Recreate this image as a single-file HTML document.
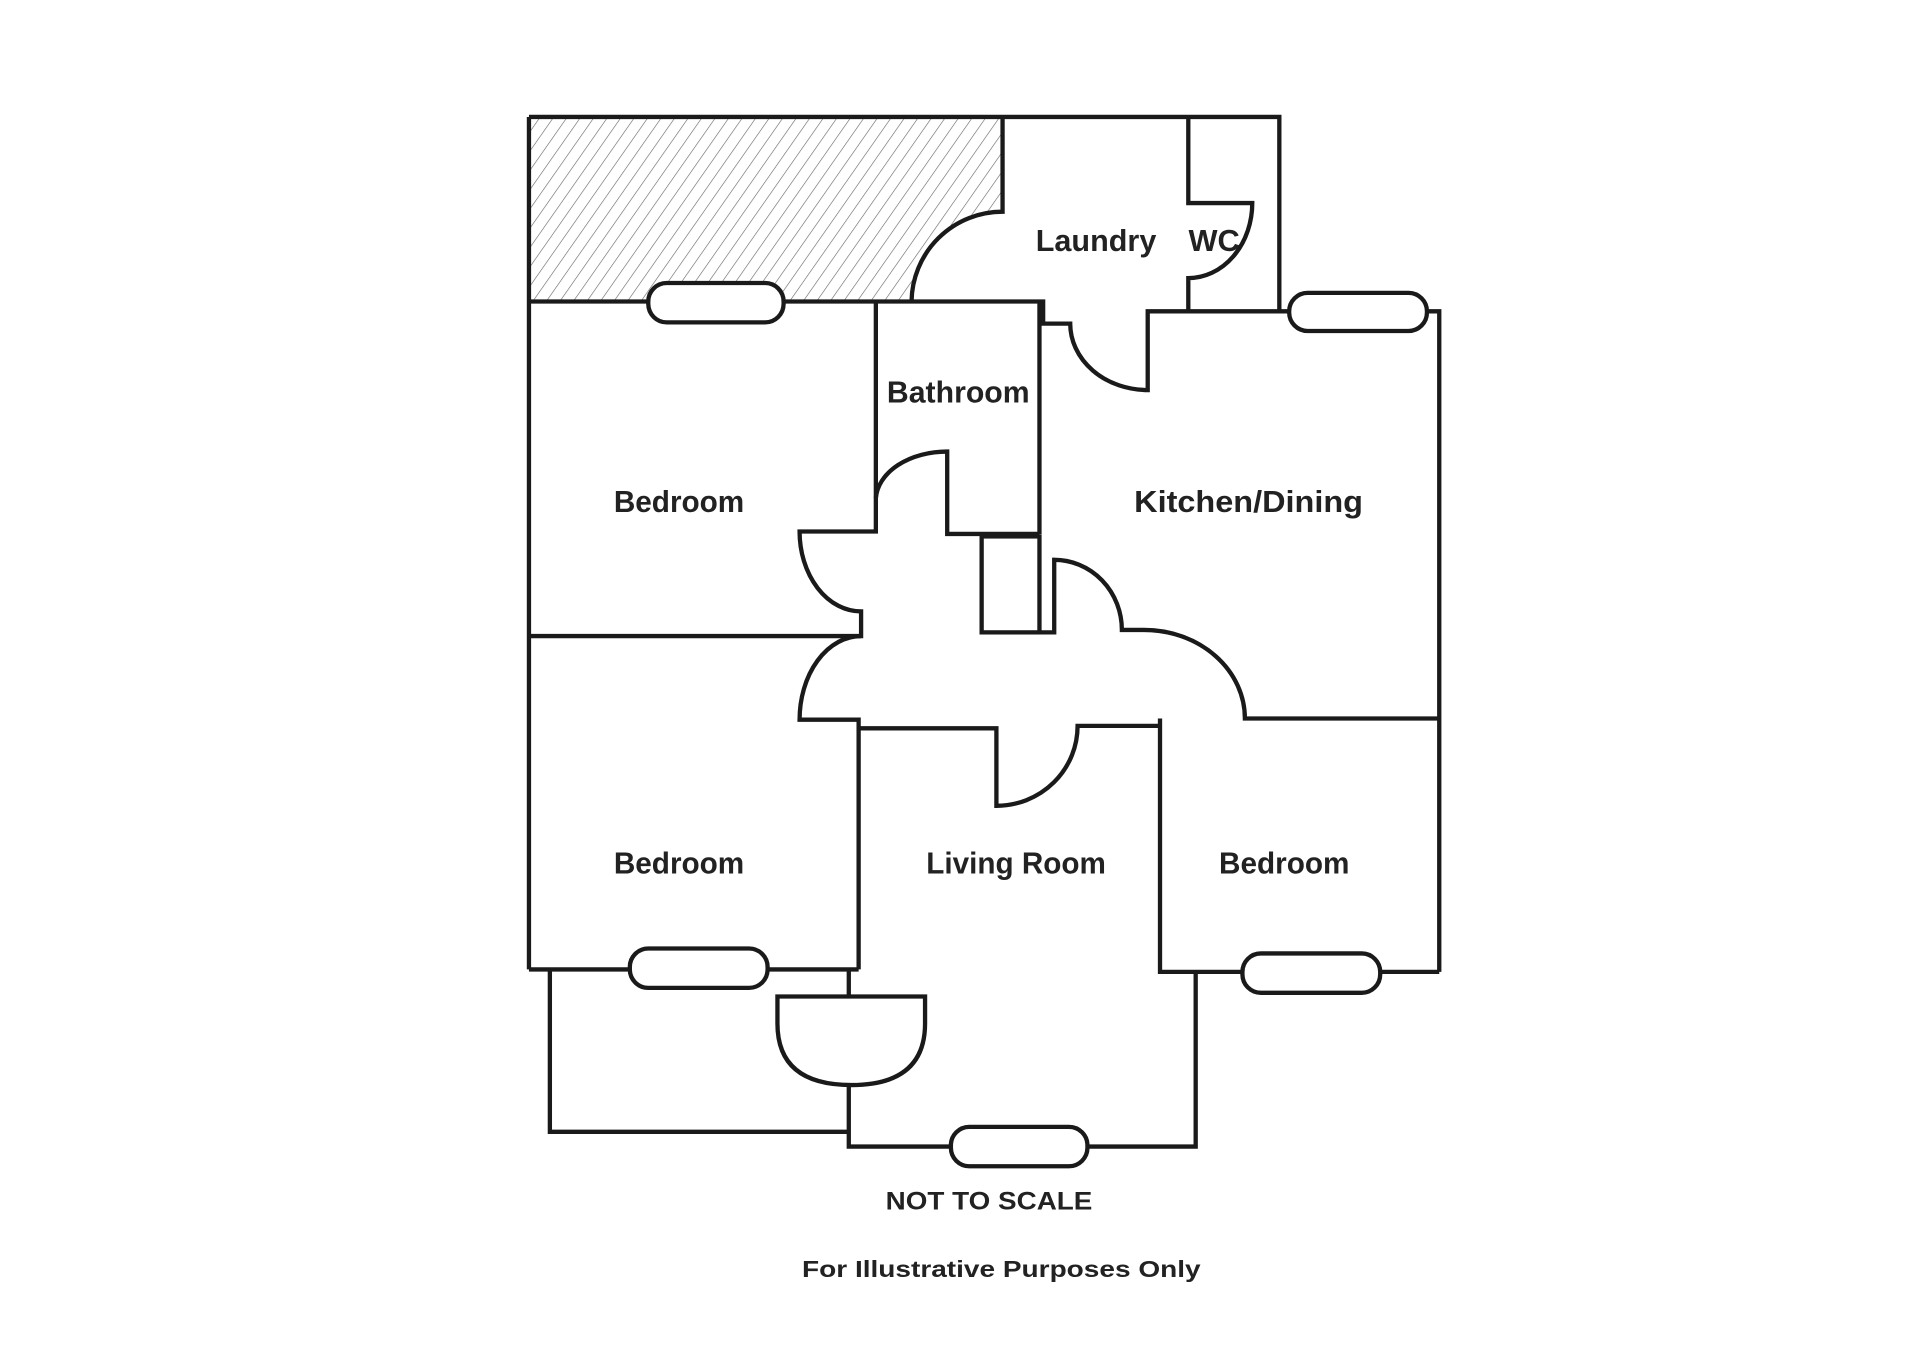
<!DOCTYPE html>
<html><head><meta charset="utf-8"><style>
html,body{margin:0;padding:0;background:#fff;}
svg{display:block;}
.t{font-family:"Liberation Sans",sans-serif;font-weight:bold;fill:#222;text-anchor:middle;}
</style></head><body>
<svg width="1919" height="1357" viewBox="0 0 1560 1103" xmlns="http://www.w3.org/2000/svg">
<defs>
<pattern id="h" patternUnits="userSpaceOnUse" width="9" height="9" patternTransform="rotate(35)">
<line x1="0" y1="0" x2="0" y2="9" stroke="#666" stroke-width="1"/>
</pattern>
</defs>
<g fill="none" stroke="#1a1a1a" stroke-width="3.5" stroke-linejoin="miter">
<path d="M430,95 L815,95 L815,172 A74,74 0 0 0 741,245 L430,245 Z" fill="url(#h)" stroke="none"/>
<path d="M430,95 L1040,95 L1040,253"/>
<path d="M815,95 L815,172 A74,74 0 0 0 741,245"/>
<path d="M966,95 L966,165 L1018,165 A52,61 0 0 1 966,226 L966,253"/>
<path d="M430,95 L430,788"/>
<path d="M430,245 L848,245 L848,263 L870,263 A63,54 0 0 0 933,317 L933,253 L1170,253 L1170,790"/>
<path d="M712,245 L712,432 L650,432 A50,65 0 0 0 700,497 L700,517 L430,517"/>
<path d="M712,405 A58,40 0 0 1 770,367 L770,434 L845,434"/>
<path d="M845,245 L845,434"/>
<rect x="798" y="436" width="47" height="78"/>
<path d="M845,514 L857,514 L857,455 A55,57 0 0 1 912,512 L930,512 A82,72 0 0 1 1012,584 L1170,584"/>
<path d="M700,517 A50,68 0 0 0 650,585 L698,585 L698,788"/>
<path d="M698,592 L810,592 L810,655 A66,65 0 0 0 876,590 L943,590"/>
<path d="M943,584 L943,790 L1170,790"/>
<path d="M430,788 L698,788"/>
<path d="M447,788 L447,920 L690,920"/>
<path d="M690,788 L690,810 M632,810 L752,810 L752,832 Q752,882 692,882 Q632,882 632,832 Z M690,882 L690,932 L972,932 L972,790"/>
<rect x="527" y="230" width="110" height="32" rx="15" fill="#fff"/>
<rect x="1048" y="238" width="112" height="31" rx="15" fill="#fff"/>
<rect x="512" y="771" width="112" height="32" rx="15" fill="#fff"/>
<rect x="1010" y="775" width="112" height="32" rx="15" fill="#fff"/>
<rect x="773" y="916" width="111" height="32" rx="15" fill="#fff"/>
</g>
<g class="t" font-size="25">
<text x="891" y="204" textLength="98" lengthAdjust="spacingAndGlyphs">Laundry</text>
<text x="987" y="204">WC</text>
<text x="779" y="327" textLength="116" lengthAdjust="spacingAndGlyphs">Bathroom</text>
<text x="552" y="416" textLength="106" lengthAdjust="spacingAndGlyphs">Bedroom</text>
<text x="1015" y="416" textLength="186" lengthAdjust="spacingAndGlyphs">Kitchen/Dining</text>
<text x="552" y="710" textLength="106" lengthAdjust="spacingAndGlyphs">Bedroom</text>
<text x="826" y="710" textLength="146" lengthAdjust="spacingAndGlyphs">Living Room</text>
<text x="1044" y="710" textLength="106" lengthAdjust="spacingAndGlyphs">Bedroom</text>
</g>
<text class="t" x="804" y="983" font-size="20" textLength="168" lengthAdjust="spacingAndGlyphs">NOT TO SCALE</text>
<text class="t" x="814" y="1038" font-size="19" textLength="324" lengthAdjust="spacingAndGlyphs">For Illustrative Purposes Only</text>
</svg>
</body></html>
